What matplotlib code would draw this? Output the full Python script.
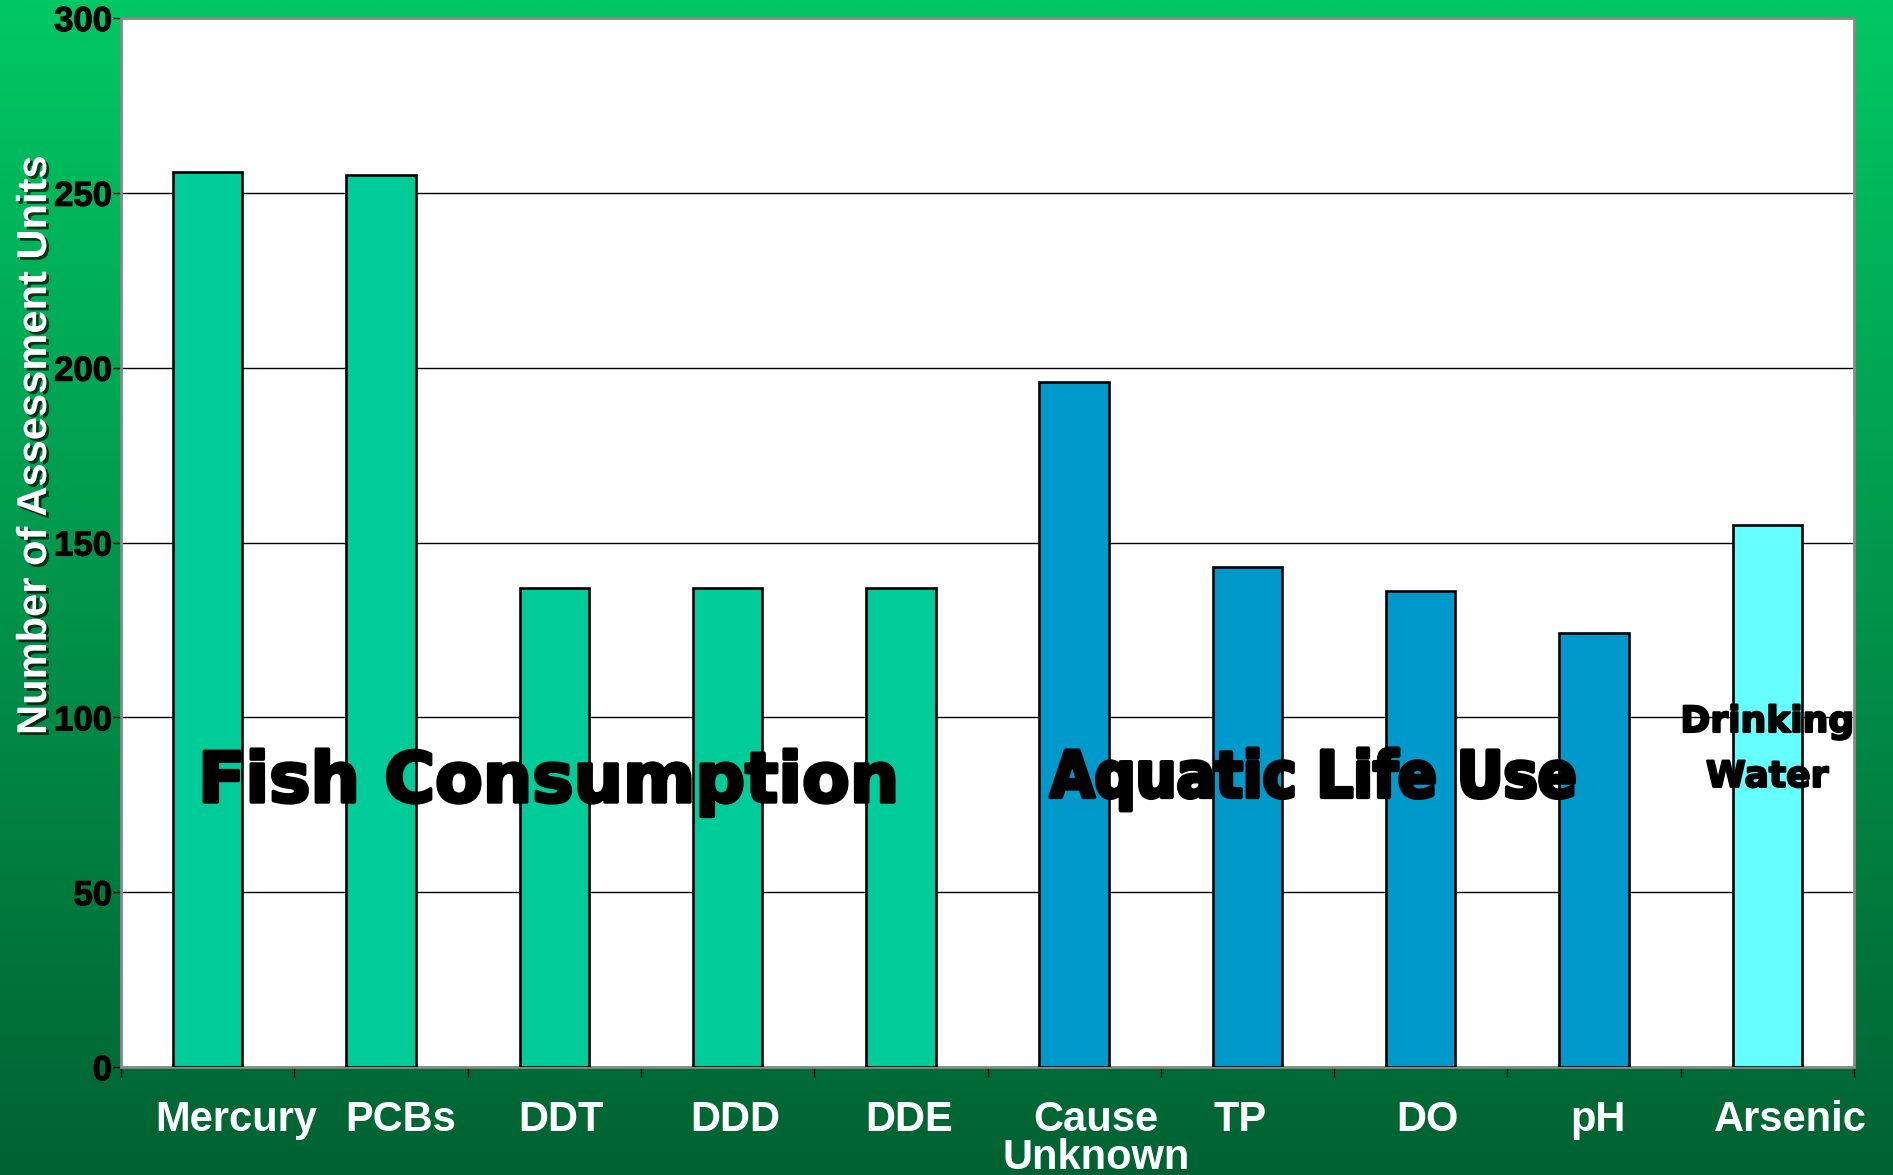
import numpy as np
import matplotlib
matplotlib.use("Agg")
import matplotlib.pyplot as plt
from matplotlib import patheffects as pe
from matplotlib import font_manager as fm
from matplotlib import transforms as mtransforms

# ---------------- data ----------------
categories = ["Mercury", "PCBs", "DDT", "DDD", "DDE",
              "Cause\nUnknown", "TP", "DO", "pH", "Arsenic"]
values = [256, 255, 137, 137, 137, 196, 143, 136, 124, 155]
groups = ["Fish Consumption"] * 5 + ["Aquatic Life Use"] * 4 + ["Drinking Water"]
group_colors = {"Fish Consumption": "#00CC99",
                "Aquatic Life Use": "#0099CC",
                "Drinking Water": "#66FFFF"}
yticks = [0, 50, 100, 150, 200, 250, 300]
ylabel = "Number of Assessment Units"
label_dx_px = [29, 20, 7, 8, 8, 22, -7, 7, 4, 23]

plt.rcParams["font.family"] = ["Liberation Sans", "DejaVu Sans"]

W, H = 1893, 1175
fig = plt.figure(figsize=(W / 100, H / 100), dpi=100)

# gradient background
bg = fig.add_axes([0, 0, 1, 1], zorder=-10)
top = np.array([0, 200, 100]) / 255.0
bot = np.array([0, 98, 50]) / 255.0
t = np.linspace(0, 1, 256)[:, None]
grad = (top[None, :] * (1 - t) + bot[None, :] * t)[:, None, :]
bg.imshow(grad, aspect="auto", extent=[0, 1, 0, 1], interpolation="bilinear")
bg.set_axis_off()

left, right, bottom, topy = 121, 1854, 1067, 18
ax = fig.add_axes([left / W, 1 - bottom / H, (right - left) / W, (bottom - topy) / H])
ax.set_facecolor("white")

x = np.arange(len(categories))
colors = [group_colors[g] for g in groups]
ax.bar(x, values, width=0.40, color=colors, edgecolor="black", linewidth=1.9, zorder=3)

ax.set_xlim(-0.5, len(categories) - 0.5)
ax.set_ylim(0, 300)
ax.set_yticks(yticks)
ax.set_yticklabels([str(v) for v in yticks], fontsize=25, fontweight="bold", color="black")
ax.tick_params(axis="y", direction="out", length=6, width=1, color="black", pad=0.5)
for lab in ax.get_yticklabels():
    lab.set_path_effects([pe.withStroke(linewidth=0.8, foreground="black")])

ax.set_xticks(x)
ax.set_xticklabels(categories, fontsize=30, fontweight="bold", color="white", linespacing=0.92)
ax.tick_params(axis="x", which="major", length=0, pad=24)
ax.set_xticks(np.arange(-0.5, len(categories), 1.0), minor=True)
ax.tick_params(axis="x", which="minor", direction="out", length=7, width=1, color="black")

for lab, dx in zip(ax.get_xticklabels(), label_dx_px):
    lab.set_transform(lab.get_transform() + mtransforms.ScaledTranslation(dx / 100, 0, fig.dpi_scale_trans))

ax.yaxis.grid(True, color="black", linewidth=1.0, zorder=0)
ax.set_axisbelow(True)
for s in ax.spines.values():
    s.set_color("#888888")
    s.set_linewidth(2)

fig.text(35 / W, 1 - 445 / H, ylabel, rotation=90, ha="center", va="center",
         fontsize=30, fontweight="bold", color="white",
         path_effects=[pe.SimplePatchShadow(offset=(2, -2), shadow_rgbFace="black", alpha=0.7),
                       pe.Normal()])

# overlay group labels
heavy = [pe.withStroke(linewidth=2.5, foreground="black")]
ax.text(1.97, 75.8, "Fish Consumption", ha="center", va="baseline",
        family="DejaVu Sans", fontweight="bold", fontsize=50, color="black",
        path_effects=heavy, zorder=5)

names = {f.name for f in fm.fontManager.ttflist}
if "Liberation Sans Narrow" in names:
    aq = dict(family="Liberation Sans Narrow", fontweight="bold", fontsize=57)
else:
    aq = dict(family="DejaVu Sans", fontstretch="condensed", fontweight="bold", fontsize=46)
ax.text(6.38, 77.2, "Aquatic Life Use", ha="center", va="baseline", color="black",
        path_effects=[pe.withStroke(linewidth=3.0, foreground="black")], zorder=5, **aq)

ax.text(9.0, 95.8, "Drinking", ha="center", va="baseline",
        family="DejaVu Sans", fontweight="bold", fontsize=26, color="black",
        path_effects=[pe.withStroke(linewidth=1.5, foreground="black")], zorder=5)
ax.text(9.0, 80.1, "Water", ha="center", va="baseline",
        family="DejaVu Sans", fontweight="bold", fontsize=26, color="black",
        path_effects=[pe.withStroke(linewidth=1.5, foreground="black")], zorder=5)

fig.savefig("out.png", dpi=100)
